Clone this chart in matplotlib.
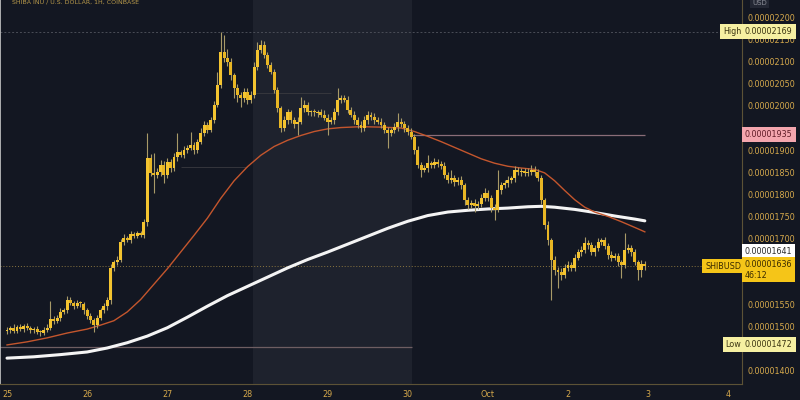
import numpy as np
import matplotlib
matplotlib.use("Agg")
import matplotlib.pyplot as plt

# SHIB/USD hourly candles, prices in units of 1e-8 USD, Sep 25 00:00 -> Oct 2 23:00
closes = [
    1491, 1496, 1489, 1498, 1493, 1500, 1496, 1491, 1493, 1486, 1484, 1491, 1496, 1516, 1511, 1518, 1532, 1536, 1559, 1552, 1545, 1552, 1550, 1536,
    1523, 1514, 1502, 1518, 1536, 1545, 1559, 1632, 1645, 1650, 1691, 1700, 1695, 1709, 1705, 1711, 1707, 1736, 1882, 1848, 1843, 1850, 1866, 1843,
    1873, 1859, 1884, 1895, 1889, 1900, 1905, 1911, 1900, 1918, 1939, 1957, 1945, 1968, 2002, 2048, 2123, 2109, 2100, 2070, 2041, 2025, 2018, 2032,
    2014, 2025, 2089, 2127, 2139, 2116, 2093, 2077, 2036, 1995, 1950, 1968, 1986, 1968, 1959, 1964, 1995, 2002, 1986, 1986, 1984, 1986, 1980, 1973,
    1964, 1968, 1986, 2014, 2018, 2014, 1991, 1980, 1968, 1957, 1950, 1968, 1980, 1975, 1968, 1964, 1957, 1945, 1939, 1945, 1952, 1964, 1959, 1950,
    1941, 1930, 1900, 1866, 1855, 1859, 1870, 1866, 1873, 1868, 1864, 1843, 1832, 1836, 1827, 1832, 1820, 1786, 1775, 1780, 1773, 1777, 1791, 1802,
    1791, 1768, 1764, 1809, 1820, 1825, 1832, 1836, 1855, 1850, 1852, 1848, 1850, 1855, 1850, 1836, 1786, 1730, 1695, 1650, 1627, 1623, 1616, 1632,
    1639, 1632, 1655, 1668, 1673, 1689, 1684, 1668, 1677, 1691, 1695, 1682, 1662, 1655, 1659, 1645, 1639, 1673, 1677, 1668, 1645, 1627, 1641, 1636,
]
first_open = 1489

upper_wick = [
    6, 5, 8, 5, 6, 5, 6, 4, 5, 6, 5, 6, 8, 40, 6, 8, 8, 6, 10, 6, 5, 6, 5, 4,
    5, 6, 5, 6, 5, 8, 6, 10, 6, 8, 6, 8, 5, 6, 5, 6, 5, 8, 57, 8, 45, 10, 12, 8,
    8, 6, 10, 44, 6, 8, 6, 30, 8, 6, 10, 8, 6, 8, 10, 29, 46, 38, 20, 8, 6, 8, 6, 8,
    8, 10, 12, 18, 10, 8, 6, 8, 6, 8, 6, 10, 8, 6, 8, 10, 25, 12, 8, 6, 8, 6, 8, 10,
    8, 6, 10, 27, 8, 6, 8, 6, 8, 6, 8, 10, 8, 6, 8, 6, 8, 6, 8, 6, 10, 20, 8, 6,
    6, 8, 6, 8, 6, 8, 19, 6, 8, 6, 8, 8, 6, 19, 8, 6, 8, 6, 8, 6, 8, 6, 8, 12,
    8, 6, 10, 46, 8, 6, 8, 6, 8, 6, 8, 6, 8, 10, 8, 6, 8, 6, 8, 6, 8, 6, 8, 10,
    8, 6, 8, 6, 8, 13, 6, 8, 6, 8, 6, 8, 6, 8, 6, 8, 6, 38, 10, 6, 8, 6, 8, 6,
]
lower_wick = [
    8, 6, 5, 6, 5, 6, 5, 8, 6, 5, 6, 5, 4, 5, 6, 5, 6, 5, 6, 5, 6, 5, 6, 8,
    6, 8, 16, 6, 5, 6, 8, 10, 8, 6, 5, 6, 5, 6, 5, 6, 5, 8, 8, 6, 41, 6, 8, 18,
    6, 8, 6, 8, 6, 8, 6, 5, 8, 6, 5, 8, 6, 5, 6, 5, 8, 10, 8, 12, 23, 16, 20, 8,
    10, 8, 6, 8, 6, 8, 6, 5, 6, 8, 8, 6, 8, 6, 8, 25, 6, 8, 6, 8, 6, 8, 6, 5,
    30, 6, 8, 6, 8, 6, 8, 6, 8, 6, 8, 6, 8, 6, 8, 6, 8, 6, 34, 8, 6, 8, 6, 8,
    8, 6, 8, 8, 16, 6, 8, 6, 8, 6, 8, 6, 8, 6, 8, 6, 8, 10, 8, 6, 14, 8, 6, 8,
    8, 8, 23, 6, 8, 6, 8, 6, 8, 6, 8, 6, 8, 6, 8, 6, 8, 10, 12, 91, 10, 37, 12, 8,
    8, 6, 8, 6, 8, 6, 8, 6, 8, 6, 8, 6, 10, 8, 6, 8, 30, 8, 6, 8, 6, 22, 16, 8,
]

# moving averages (hour index, price)
ma_fast_hours = [0, 6, 12, 18, 24, 28, 32, 36, 40, 44, 48, 52, 56, 60, 64, 68, 72, 76, 80, 84, 88, 92, 96, 100,
                 106, 112, 118, 122, 126, 130, 134, 138, 142, 146, 150, 154, 158, 161, 164, 167, 170, 173, 176, 180, 184, 188, 191]
ma_fast = [1457, 1464, 1473, 1484, 1493, 1502, 1512, 1532, 1560, 1595, 1630, 1668, 1706, 1745, 1790, 1830, 1862, 1888, 1908, 1922, 1933, 1942, 1948, 1951,
           1953, 1952, 1950, 1942, 1931, 1919, 1906, 1893, 1880, 1870, 1863, 1859, 1856, 1848, 1830, 1808, 1787, 1770, 1759, 1749, 1737, 1724, 1714]
ma_slow_hours = [0, 8, 16, 24, 30, 36, 42, 48, 54, 60, 66, 72, 78, 84, 90, 96, 102, 108, 114, 120, 126, 132, 138, 144,
                 150, 156, 160, 164, 170, 176, 182, 188, 191]
ma_slow = [1427, 1430, 1435, 1441, 1450, 1462, 1477, 1496, 1520, 1545, 1569, 1590, 1611, 1632, 1651, 1668, 1686, 1704, 1722, 1738, 1751, 1759, 1763, 1766,
           1768, 1771, 1772, 1770, 1765, 1758, 1750, 1743, 1739]

day_labels = ["25", "26", "27", "28", "29", "30", "Oct", "2", "3", "4"]
price_ticks = list(range(1400, 2201, 50))
covered_ticks = [1950, 1650, 1600]   # hidden behind the price tags

high_price = 2169
low_price = 1472
mark_price = 1935
last_price = 1636
prev_price = 1641

bg = "#131722"
gold = "#d6a94c"
candle_col = "#f4c430"
wick_col = "#a89a68"

closes = np.array(closes)
opens = np.concatenate([[first_open], closes[:-1]])
highs = np.maximum(opens, closes) + np.array(upper_wick)
lows = np.minimum(opens, closes) - np.array(lower_wick)
hours = np.arange(len(closes))

fig = plt.figure(figsize=(8, 4), dpi=100, facecolor=bg)
ax = fig.add_axes([0, 0.04, 742 / 800, 0.96])
ax.set_facecolor(bg)

# highlighted session band
ax.axvspan(73.7, 121.3, color="#1e222d", zorder=0, lw=0)

# horizontal levels
ax.axhline(high_price, color="#4a4d57", lw=0.7, ls=(0, (2, 2)), zorder=1)
ax.axhline(last_price, color="#8a7640", lw=0.7, ls=(0, (1, 2)), zorder=1)
ax.hlines(mark_price, 121.3, 191, color="#8a6d78", lw=0.9, zorder=1)
ax.hlines(1452, -3, 121.3, color="#6e5e62", lw=0.9, zorder=1)
ax.hlines(1862, 52, 72, color="#3a3a40", lw=0.6, zorder=1)
ax.hlines(2030, 74, 97, color="#3a3a40", lw=0.6, zorder=1)

# moving averages
ax.plot(ma_slow_hours, ma_slow, color="#f4f4f4", lw=2.2, zorder=2, solid_capstyle="round", solid_joinstyle="round")
ax.plot(ma_fast_hours, ma_fast, color="#c4562d", lw=1.0, zorder=2, solid_joinstyle="round")

# candles
ax.vlines(hours, lows, highs, color=wick_col, lw=0.8, zorder=3)
body = closes - opens
body = np.where(np.abs(body) < 3, 3, body)
down = closes < opens
ax.bar(hours[~down], body[~down], bottom=opens[~down], width=0.88, color=candle_col, zorder=4, lw=0)
ax.bar(hours[down], body[down], bottom=opens[down], width=0.88, color="#e8b624", zorder=4, lw=0)

ax.set_xlim(-2.1, 220.1)
ax.set_ylim(1368.2, 2240.9)

ax.set_xticks(np.arange(len(day_labels)) * 24)
ax.set_xticklabels(day_labels)
ax.yaxis.tick_right()
ax.set_yticks(price_ticks)
ax.set_yticklabels(["" if p in covered_ticks else f"{p * 1e-8:.8f}" for p in price_ticks])
ax.tick_params(axis="both", length=0, colors=gold, labelsize=5.8)
ax.tick_params(axis="y", pad=4)
ax.tick_params(axis="x", pad=4)

ax.spines["top"].set_visible(False)
ax.spines["left"].set_color("#c8c8c8")
ax.spines["left"].set_linewidth(1.2)
ax.spines["right"].set_color("#5c5236")
ax.spines["bottom"].set_color("#5c5236")
ax.spines["right"].set_linewidth(0.8)
ax.spines["bottom"].set_linewidth(0.8)

tr = ax.get_yaxis_transform()
fs = 5.8


def tag(y, txt, fc, tc, x=1.004, ha="left"):
    ax.text(x, y, txt, transform=tr, ha=ha, va="center", fontsize=fs, color=tc, zorder=10,
            clip_on=False, bbox=dict(boxstyle="square,pad=0.35", fc=fc, ec="none"))


tag(high_price, f"{high_price * 1e-8:.8f}", "#f6f0a2", "#3b3512")
tag(high_price, "High", "#f6f0a2", "#3b3512", x=0.999, ha="right")
tag(mark_price, f"{mark_price * 1e-8:.8f}", "#f4a6ae", "#5e1c26")
tag(prev_price + 28, f"{prev_price * 1e-8:.8f}", "#ffffff", "#2b2b2b")
ax.text(1.004, last_price - 8, f"{last_price * 1e-8:.8f}\n46:12", transform=tr, ha="left", va="center",
        fontsize=fs, color="#3a2a00", zorder=10, clip_on=False, linespacing=1.25,
        bbox=dict(boxstyle="square,pad=0.35", fc="#f5c518", ec="none"))
tag(last_price, "SHIBUSD", "#f5c518", "#3a2a00", x=0.999, ha="right")
tag(1458, f"{low_price * 1e-8:.8f}", "#f6f0a2", "#3b3512")
tag(1458, "Low", "#f6f0a2", "#3b3512", x=0.999, ha="right")

fig.text(752 / 800, 1 - 3 / 400, "USD", fontsize=5, color="#8a8d96", ha="left", va="center",
         bbox=dict(boxstyle="square,pad=0.3", fc="#232733", ec="none"))
fig.text(12 / 800, 1 - 2 / 400, "SHIBA INU / U.S. DOLLAR, 1H, COINBASE", fontsize=4.5, color="#b99a4a",
         ha="left", va="center")

fig.savefig("out.png", dpi=100, facecolor=bg)
